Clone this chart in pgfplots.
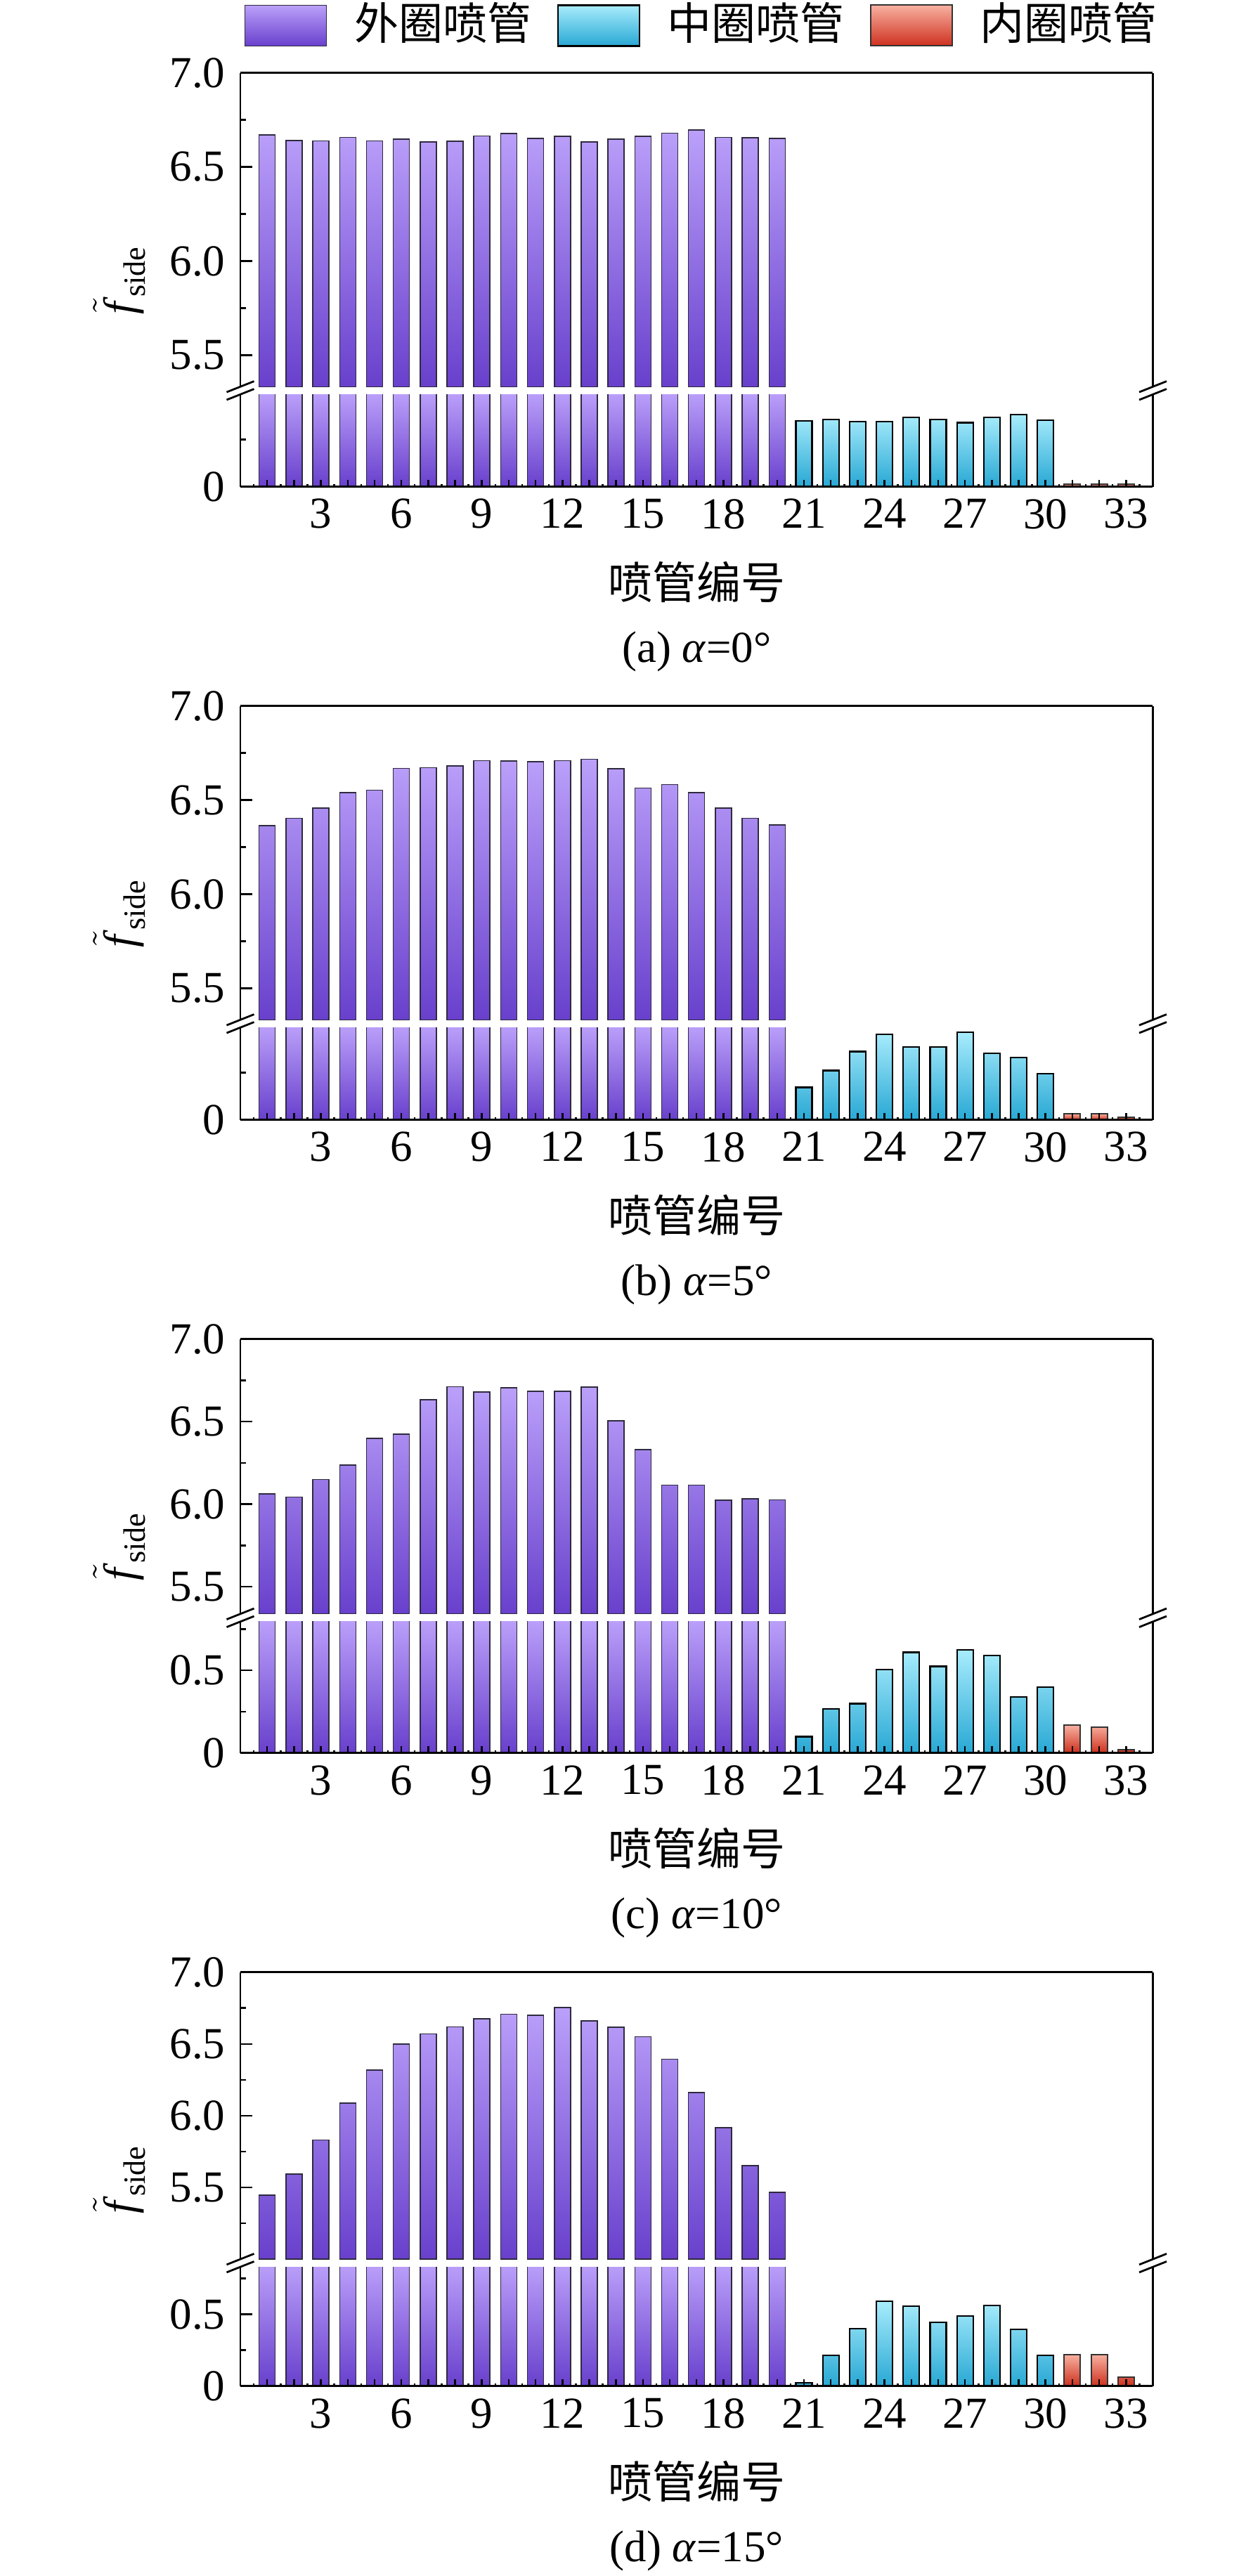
\documentclass[border=0pt]{standalone}
\usepackage{fontspec}
\setmainfont{Liberation Serif}
\newfontfamily\cjk{Noto Sans CJK SC}
\usepackage{pgfplots}
\usepackage{pgfplotstable}
\pgfplotsset{compat=1.18}
\newcommand\tickfont{\fontsize{12.6}{15}\selectfont}
\definecolor{outT}{HTML}{BBA0FA}
\definecolor{outB}{HTML}{6840CC}
\definecolor{outL}{HTML}{2E2A3E}
\definecolor{midT}{HTML}{A8ECFC}
\definecolor{midB}{HTML}{28A8D4}
\definecolor{inT}{HTML}{F8B0A0}
\definecolor{inB}{HTML}{CE301E}

\pgfplotstableread{
x y
1 6.670
2 6.640
3 6.638
4 6.657
5 6.638
6 6.647
7 6.633
8 6.637
9 6.665
10 6.677
11 6.652
12 6.662
13 6.633
14 6.648
15 6.662
16 6.679
17 6.696
18 6.657
19 6.655
20 6.651
}\tAo
\pgfplotstableread{
x y
21 0.349
22 0.356
23 0.346
24 0.345
25 0.368
26 0.358
27 0.340
28 0.368
29 0.383
30 0.354
}\tAm
\pgfplotstableread{
x y
31 0.015
32 0.013
33 0.013
}\tAi

\pgfplotstableread{
x y
1 6.365
2 6.403
3 6.457
4 6.540
5 6.552
6 6.668
7 6.672
8 6.682
9 6.710
10 6.707
11 6.703
12 6.710
13 6.717
14 6.667
15 6.563
16 6.582
17 6.540
18 6.457
19 6.403
20 6.367
}\tBo
\pgfplotstableread{
x y
21 0.172
22 0.262
23 0.362
24 0.455
25 0.388
26 0.388
27 0.465
28 0.353
29 0.330
30 0.245
}\tBm
\pgfplotstableread{
x y
31 0.032
32 0.032
33 0.012
}\tBi

\pgfplotstableread{
x y
1 6.063
2 6.042
3 6.149
4 6.237
5 6.398
6 6.423
7 6.633
8 6.711
9 6.680
10 6.705
11 6.684
12 6.684
13 6.709
14 6.505
15 6.330
16 6.115
17 6.115
18 6.023
19 6.033
20 6.025
}\tCo
\pgfplotstableread{
x y
21 0.099
22 0.267
23 0.299
24 0.506
25 0.609
26 0.524
27 0.624
28 0.590
29 0.339
30 0.400
}\tCm
\pgfplotstableread{
x y
31 0.168
32 0.154
33 0.021
}\tCi

\pgfplotstableread{
x y
1 5.447
2 5.594
3 5.831
4 6.088
5 6.318
6 6.500
7 6.570
8 6.618
9 6.675
10 6.708
11 6.700
12 6.754
13 6.660
14 6.616
15 6.550
16 6.393
17 6.162
18 5.917
19 5.651
20 5.467
}\tDo
\pgfplotstableread{
x y
21 0.024
22 0.212
23 0.400
24 0.592
25 0.555
26 0.445
27 0.489
28 0.563
29 0.395
30 0.212
}\tDm
\pgfplotstableread{
x y
31 0.218
32 0.218
33 0.063
}\tDi

\pgfplotsset{
  brk/.style={scale only axis, width=259.7pt, xmin=0, xmax=34, ymin=0,
    anchor=north west, axis on top,
    major tick length=3.5pt, minor tick length=1.7pt,
    tick style={black, line width=0.5pt},
    axis line style={line width=0.55pt},
    tick label style={font=\tickfont},
    yticklabel style={xshift=-0.8pt}},
  upper/.style={brk, axis x line*=top, axis y line*=box, xtick=\empty,
    ytick pos=left, tick align=inside},
  lower/.style={brk, axis x line*=bottom, axis y line*=box,
    xtick={1,...,33},
    xticklabels={,,3,,,6,,,9,,,12,,,15,,,18,,,21,,,24,,,27,,,30,,,33},
    minor xtick={0.5,1.5,...,33.5},
    xtick style={/pgfplots/major tick length=2pt, /pgfplots/minor tick length=0.7pt},
    ytick pos=left, xtick pos=bottom, tick align=inside},
  mybar/.style={ybar, bar width=4.6pt, bar shift=0pt},
  outerS/.style={draw=outL, line width=0.3pt, top color=outT, bottom color=outB},
  midS/.style={draw=black, line width=0.45pt, top color=midT, bottom color=midB},
  inS/.style={draw=black!80, line width=0.4pt, top color=inT, bottom color=inB},
}

\newcommand\brkmark[2]{%
  \fill[white] ({#1-3.9pt},{#2+1.1pt-1.55pt}) -- ({#1+3.9pt},{#2+1.1pt+1.55pt})
     -- ({#1+3.9pt},{#2-1.1pt+1.55pt}) -- ({#1-3.9pt},{#2-1.1pt-1.55pt}) -- cycle;
  \draw[line width=0.55pt] ({#1-3.9pt},{#2+1.1pt-1.55pt}) -- ({#1+3.9pt},{#2+1.1pt+1.55pt});
  \draw[line width=0.55pt] ({#1-3.9pt},{#2-1.1pt-1.55pt}) -- ({#1+3.9pt},{#2-1.1pt+1.55pt});
}
\newcommand\ylab{$\tilde{\mbox{\textit{f}}}_{\mathrm{side}}$}

\begin{document}
\begin{tikzpicture}
\useasboundingbox (-68.4pt,20.72pt) rectangle (286pt,-712.48pt);

% ---------------- panel a ----------------
\begin{axis}[upper, at={(0pt,0pt)}, height=89.34pt, ymax=1.667,
  ytick={0.167,0.667,1.167,1.667}, yticklabels={5.5,6.0,6.5,7.0},
  minor ytick={0.417,0.917,1.417},
  legend columns=3,
  legend image code/.code={\draw[#1] (0pt,-6.3pt) rectangle (23.2pt,5.3pt);},
  legend style={at={(0,1)}, anchor=south west, xshift=1.2pt, yshift=7.4pt,
    draw=none, fill=none, inner sep=0pt, outer sep=0pt, column sep=0pt,
    font=\cjk\tickfont, nodes={inner sep=0pt},
    /tikz/every odd column/.append style={column sep=7.8pt},
    /tikz/every even column/.append style={column sep=7.2pt}}]
\addplot[mybar, outerS, forget plot] table[x=x, y expr=\thisrow{y}-5.333] {\tAo};
\addlegendimage{outerS}\addlegendentry{外圈喷管}
\addlegendimage{midS}\addlegendentry{中圈喷管}
\addlegendimage{inS}\addlegendentry{内圈喷管}
\end{axis}
\begin{axis}[lower, at={(0pt,-91.54pt)}, height=26.26pt, ymax=0.49,
  ytick={0}, yticklabels={0}, minor ytick={0.25}]
\addplot[mybar, outerS] table[x=x, y expr={min(\thisrow{y},0.5)}] {\tAo};
\addplot[mybar, midS] table[x=x, y=y] {\tAm};
\addplot[mybar, inS] table[x=x, y=y] {\tAi};
\end{axis}
\brkmark{0pt}{-90.44pt}
\brkmark{259.7pt}{-90.44pt}
\node[rotate=90, font=\tickfont] at (-34.4pt,-58.9pt) {\ylab};
\node[font=\tickfont\cjk] at (129.85pt,-144.9pt) {喷管编号};
\node[font=\tickfont, anchor=base] at (129.85pt,-167.7pt) {(a) \textit{α}=0°};

% ---------------- panel b ----------------
\begin{axis}[upper, at={(0pt,-180.2pt)}, height=89.34pt, ymax=1.667,
  ytick={0.167,0.667,1.167,1.667}, yticklabels={5.5,6.0,6.5,7.0},
  minor ytick={0.417,0.917,1.417}]
\addplot[mybar, outerS] table[x=x, y expr=\thisrow{y}-5.333] {\tBo};
\end{axis}
\begin{axis}[lower, at={(0pt,-271.74pt)}, height=26.26pt, ymax=0.49,
  ytick={0}, yticklabels={0}, minor ytick={0.25}]
\addplot[mybar, outerS] table[x=x, y expr={min(\thisrow{y},0.5)}] {\tBo};
\addplot[mybar, midS] table[x=x, y=y] {\tBm};
\addplot[mybar, inS] table[x=x, y=y] {\tBi};
\end{axis}
\brkmark{0pt}{-270.64pt}
\brkmark{259.7pt}{-270.64pt}
\node[rotate=90, font=\tickfont] at (-34.4pt,-239.1pt) {\ylab};
\node[font=\tickfont\cjk] at (129.85pt,-325.1pt) {喷管编号};
\node[font=\tickfont, anchor=base] at (129.85pt,-347.9pt) {(b) \textit{α}=5°};

% ---------------- panel c ----------------
\begin{axis}[upper, at={(0pt,-360.4pt)}, height=78.24pt, ymax=1.665,
  ytick={0.165,0.665,1.165,1.665}, yticklabels={5.5,6.0,6.5,7.0},
  minor ytick={0.415,0.915,1.415}]
\addplot[mybar, outerS] table[x=x, y expr=\thisrow{y}-5.335] {\tCo};
\end{axis}
\begin{axis}[lower, at={(0pt,-440.84pt)}, height=37.36pt, ymax=0.795,
  ytick={0,0.5}, yticklabels={0,0.5}, minor ytick={0.25,0.75}]
\addplot[mybar, outerS] table[x=x, y expr={min(\thisrow{y},0.81)}] {\tCo};
\addplot[mybar, midS] table[x=x, y=y] {\tCm};
\addplot[mybar, inS] table[x=x, y=y] {\tCi};
\end{axis}
\brkmark{0pt}{-439.74pt}
\brkmark{259.7pt}{-439.74pt}
\node[rotate=90, font=\tickfont] at (-34.4pt,-419.3pt) {\ylab};
\node[font=\tickfont\cjk] at (129.85pt,-505.3pt) {喷管编号};
\node[font=\tickfont, anchor=base] at (129.85pt,-528.1pt) {(c) \textit{α}=10°};

% ---------------- panel d ----------------
\begin{axis}[upper, at={(0pt,-540.6pt)}, height=81.70pt, ymax=2.0,
  ytick={0.5,1.0,1.5,2.0}, yticklabels={5.5,6.0,6.5,7.0},
  minor ytick={0.25,0.75,1.25,1.75}]
\addplot[mybar, outerS] table[x=x, y expr=\thisrow{y}-5.0] {\tDo};
\end{axis}
\begin{axis}[lower, at={(0pt,-624.5pt)}, height=33.90pt, ymax=0.83,
  ytick={0,0.5}, yticklabels={0,0.5}, minor ytick={0.25,0.75}]
\addplot[mybar, outerS] table[x=x, y expr={min(\thisrow{y},0.85)}] {\tDo};
\addplot[mybar, midS] table[x=x, y=y] {\tDm};
\addplot[mybar, inS] table[x=x, y=y] {\tDi};
\end{axis}
\brkmark{0pt}{-623.4pt}
\brkmark{259.7pt}{-623.4pt}
\node[rotate=90, font=\tickfont] at (-34.4pt,-599.5pt) {\ylab};
\node[font=\tickfont\cjk] at (129.85pt,-685.5pt) {喷管编号};
\node[font=\tickfont, anchor=base] at (129.85pt,-708.3pt) {(d) \textit{α}=15°};
\end{tikzpicture}
\end{document}
